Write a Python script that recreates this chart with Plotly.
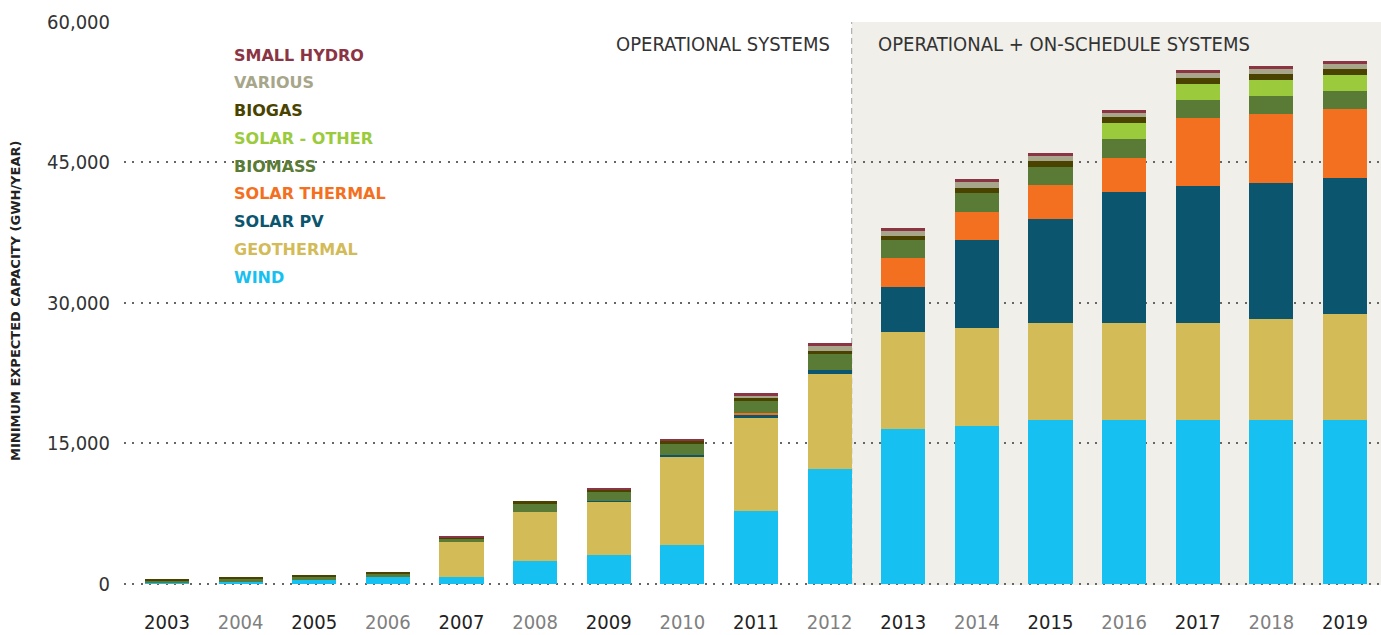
import plotly.graph_objects as go

years = [str(y) for y in range(2003, 2020)]

wind = [100, 250, 430, 750, 750, 2460, 3110, 4180, 7820, 12320, 16500, 16820, 17460, 17460, 17460, 17460, 17460]
geothermal = [0, 0, 0, 0, 3750, 5250, 5680, 9430, 9860, 10070, 10390, 10500, 10390, 10390, 10390, 10820, 11360]
solar_pv = [0, 0, 0, 0, 0, 0, 110, 110, 430, 430, 4820, 9430, 11140, 14040, 14680, 14570, 14570]
solar_thermal = [0, 0, 0, 0, 0, 0, 0, 0, 110, 0, 3110, 3000, 3640, 3540, 7180, 7290, 7290]
biomass = [320, 320, 320, 320, 320, 860, 960, 1180, 1290, 1710, 1930, 2040, 1930, 2040, 1930, 1930, 1930]
solar_other = [0, 0, 0, 0, 0, 0, 0, 0, 0, 0, 0, 0, 0, 1710, 1710, 1710, 1710]
biogas = [110, 110, 110, 110, 110, 320, 210, 430, 320, 320, 430, 540, 640, 640, 640, 640, 640]
various = [0, 0, 0, 0, 0, 0, 0, 0, 320, 540, 540, 540, 540, 540, 540, 540, 540]
small_hydro = [0, 0, 0, 0, 210, 0, 210, 110, 210, 320, 320, 320, 320, 210, 320, 320, 320]

series_names = ["WIND", "GEOTHERMAL", "SOLAR PV", "SOLAR THERMAL", "BIOMASS",
                "SOLAR - OTHER", "BIOGAS", "VARIOUS", "SMALL HYDRO"]
series_values = [wind, geothermal, solar_pv, solar_thermal, biomass,
                 solar_other, biogas, various, small_hydro]
series_colors = ["#16c0f0", "#d3bb58", "#0b566e", "#f47021", "#5a7b36",
                 "#9bcb3c", "#4a4300", "#a7a68a", "#8b3444"]

y_ticks = [0, 15000, 30000, 45000, 60000]
y_ticktext = ["0", "15,000", "30,000", "45,000", "60,000"]

section_labels = ["OPERATIONAL SYSTEMS", "OPERATIONAL + ON-SCHEDULE SYSTEMS"]
y_title = "MINIMUM EXPECTED CAPACITY (GWH/YEAR)"

COND = "Liberation Sans Narrow, DejaVu Sans Condensed, Roboto Condensed, Arial Narrow, sans-serif"

W, H = 1381, 635
L, R, T, B = 124, 0, 22, 50
pw = W - L - R
ph = H - T - B


def pxx(px):
    return (px - L) / pw


def pxy(py):
    return (H - B - 1 - py) / ph


fig = go.Figure()
for name, vals, col in zip(series_names, series_values, series_colors):
    fig.add_trace(go.Bar(x=years, y=vals, name=name, marker=dict(color=col, line=dict(width=0)),
                         showlegend=False))

ticktext = []
for i, y in enumerate(years):
    c = "#222222" if i % 2 == 0 else "#808080"
    ticktext.append(f'<span style="color:{c}">{y}</span>')

fig.update_layout(
    width=W, height=H,
    margin=dict(l=L, r=R, t=T, b=B, autoexpand=False),
    barmode="stack", bargap=0.4,
    paper_bgcolor="white", plot_bgcolor="white",
    xaxis=dict(type="category", range=[-0.584, 16.489], tickvals=years, ticktext=ticktext,
               showgrid=False, zeroline=False, showline=False, ticks="",
               tickfont=dict(family=COND, size=20, color="#222"), ticklabelstandoff=23),
    yaxis=dict(range=[-110, 60000], tickvals=y_ticks, ticktext=y_ticktext,
               showgrid=True, gridcolor="#666666", gridwidth=2, griddash="2px,6.3px",
               zeroline=False, showline=False, ticks="",
               tickfont=dict(family=COND, size=20, color="#333"), ticklabelstandoff=13),
    font=dict(family="DejaVu Sans"),
)

# shaded region for operational + on-schedule
fig.add_shape(type="rect", xref="x", yref="y", x0=9.3, x1=16.6, y0=-110, y1=60000,
              fillcolor="#f0efea", line=dict(width=0), layer="below")
fig.add_shape(type="line", xref="x", yref="y", x0=9.3, x1=9.3, y0=0, y1=60000,
              line=dict(color="#a0a0a0", width=1, dash="6px,4px"), layer="between")
# white backing behind legend
fig.add_shape(type="rect", xref="paper", yref="paper", x0=pxx(218), x1=pxx(397),
              y0=pxy(290), y1=pxy(40), fillcolor="white", line=dict(width=0), layer="between")

# text legend (top to bottom: reverse stack order)
legend_y0, legend_step = 54, 27.75
for k, (name, col) in enumerate(zip(series_names[::-1], series_colors[::-1])):
    fig.add_annotation(text=f"<b>{name}</b>", xref="paper", yref="paper",
                       x=pxx(232), y=pxy(legend_y0 + k * legend_step),
                       xanchor="left", yanchor="middle", showarrow=False,
                       font=dict(family="DejaVu Sans", size=16, color=col))

fig.add_annotation(text=section_labels[0], xref="paper", yref="paper", x=pxx(832), y=pxy(43),
                   xanchor="right", yanchor="middle", showarrow=False,
                   font=dict(family=COND, size=20, color="#333"))
fig.add_annotation(text=section_labels[1], xref="paper", yref="paper", x=pxx(876), y=pxy(43),
                   xanchor="left", yanchor="middle", showarrow=False,
                   font=dict(family=COND, size=20, color="#333"))

fig.add_annotation(text=f"<b>{y_title}</b>", xref="paper", yref="paper", x=pxx(15), y=pxy(300),
                   xanchor="center", yanchor="middle", showarrow=False, textangle=-90,
                   font=dict(family="DejaVu Sans", size=13, color="#222"))

fig.write_html("out.html", config={"displayModeBar": False},
               post_script="document.body.style.margin='0px';document.body.style.overflow='hidden';")
